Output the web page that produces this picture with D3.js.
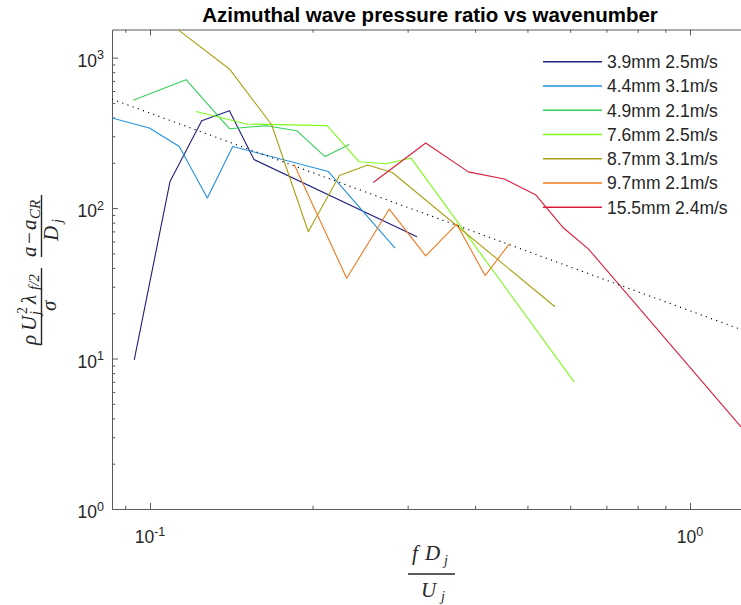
<!DOCTYPE html>
<html>
<head>
<meta charset="utf-8">
<script src="https://cdn.jsdelivr.net/npm/d3@7"></script>
<style>
  body { margin: 0; background: #fff; }
  svg { display: block; }
  text { font-family: "Liberation Sans", Arial, Helvetica, sans-serif; fill: #262626; }
  text.math { font-family: "Liberation Serif", "Times New Roman", serif; font-style: italic; }
</style>
</head>
<body>
<div id="chart"></div>
<script>
// series labels (legend order)
const seriesLabels = ["3.9mm 2.5m/s", "4.4mm 3.1m/s", "4.9mm 2.1m/s", "7.6mm 2.5m/s",
                      "8.7mm 3.1m/s", "9.7mm 2.1m/s", "15.5mm 2.4m/s"];

// fD/U values and pressure ratio values, one pair per series
const x39 = [0.0935, 0.1089, 0.1247, 0.1403, 0.1558, 0.3122];
const y39 = [9.8, 150, 381, 444, 210, 64.4];

const x44 = [0.0850, 0.0997, 0.1133, 0.1277, 0.1423, 0.2139, 0.2843];
const y44 = [397, 341, 257, 116.6, 257, 175, 54.2];

const x49 = [0.0931, 0.1166, 0.1403, 0.1644, 0.1869, 0.2109, 0.2339];
const y49 = [520, 714, 337, 353, 327, 220, 265];

const x76 = [0.1217, 0.1510, 0.2127, 0.2441, 0.2740, 0.3044, 0.6100];
const y76 = [439, 362, 353, 203, 197, 215, 7.0];

const x87 = [0.1125, 0.1403, 0.1680, 0.1964, 0.2243, 0.2531, 0.2810, 0.5623];
const y87 = [1540, 841, 358, 69.6, 164.5, 193.6, 172.5, 22.1];

const x97 = [0.1850, 0.2313, 0.2774, 0.3240, 0.3698, 0.4174, 0.4629];
const y97 = [194, 34.2, 98.5, 48.1, 78.3, 35.6, 57.9];

const x155 = [0.2591, 0.3240, 0.3886, 0.4531, 0.5185, 0.5832, 0.6482, 1.243];
const y155 = [148, 271, 174, 156, 122, 73.7, 53.6, 3.51];

// dotted power-law fit, end points
const fitX = [0.0850, 1.243];
const fitY = [530, 15.6];

// axis ticks
const xMajor = [0.1, 1];
const xMinor = [0.09, 0.2, 0.3, 0.4, 0.5, 0.6, 0.7, 0.8, 0.9];
const yMajor = [1, 10, 100, 1000];
const yMinor = [2, 3, 4, 5, 6, 7, 8, 9, 20, 30, 40, 50, 60, 70, 80, 90, 200, 300, 400, 500, 600, 700, 800, 900];

const colors = ["#1f1f80", "#2590de", "#35d05a", "#7cfc1c", "#a8a012", "#f2791f", "#dc1e3c"];

const seriesX = [x39, x44, x49, x76, x87, x97, x155];
const seriesY = [y39, y44, y49, y76, y87, y97, y155];

const W = 741, H = 605;
const plot = { left: 112, right: 750, top: 29.5, bottom: 509 };
const axisColor = "#5a5a5a";

const svg = d3.select("#chart").append("svg")
    .attr("width", W)
    .attr("height", H)
    .attr("viewBox", `0 0 ${W} ${H}`);

const x = d3.scaleLog().domain([0.08504, 1.2915]).range([plot.left, plot.right]);
const y = d3.scaleLog().domain([1, 1538]).range([plot.bottom, plot.top]);

svg.append("clipPath").attr("id", "clip")
  .append("rect")
    .attr("x", plot.left).attr("y", plot.top)
    .attr("width", plot.right - plot.left).attr("height", plot.bottom - plot.top);

// axes (ticks point inwards, like matlab)
function tidy(g) {
    g.select(".domain").attr("stroke", axisColor);
    g.selectAll(".tick line").attr("stroke", axisColor);
    g.selectAll(".tick text").remove();
}

svg.append("g").attr("transform", `translate(0,${plot.bottom})`)
    .call(d3.axisBottom(x).tickValues(xMajor).tickSize(-6).tickSizeOuter(0)).call(tidy);
svg.append("g").attr("transform", `translate(0,${plot.bottom})`)
    .call(d3.axisBottom(x).tickValues(xMinor).tickSize(-3.3).tickSizeOuter(0)).call(tidy)
    .call(g => g.select(".domain").remove());
svg.append("g").attr("transform", `translate(0,${plot.top})`)
    .call(d3.axisTop(x).tickValues(xMajor).tickSize(-6).tickSizeOuter(0)).call(tidy);
svg.append("g").attr("transform", `translate(0,${plot.top})`)
    .call(d3.axisTop(x).tickValues(xMinor).tickSize(-3.3).tickSizeOuter(0)).call(tidy)
    .call(g => g.select(".domain").remove());
svg.append("g").attr("transform", `translate(${plot.left},0)`)
    .call(d3.axisLeft(y).tickValues(yMajor).tickSize(-6).tickSizeOuter(0)).call(tidy);
svg.append("g").attr("transform", `translate(${plot.left},0)`)
    .call(d3.axisLeft(y).tickValues(yMinor).tickSize(-3.3).tickSizeOuter(0)).call(tidy)
    .call(g => g.select(".domain").remove());

// tick labels as 10^n
function powerLabel(sel) {
    sel.append("tspan").text("10");
    sel.append("tspan")
        .attr("dy", -7.5)
        .style("font-size", "12.5px")
        .text(d => String(Math.round(Math.log10(d))));
}

svg.append("g").selectAll("text").data(xMajor).join("text")
    .attr("x", d => x(d))
    .attr("y", plot.bottom + 34)
    .attr("text-anchor", "middle")
    .style("font-size", "17.5px")
    .call(powerLabel);

svg.append("g").selectAll("text").data(yMajor).join("text")
    .attr("x", plot.left - 8)
    .attr("y", d => y(d) + 9)
    .attr("text-anchor", "end")
    .style("font-size", "17.5px")
    .call(powerLabel);

// data lines
const line = d3.line().x(d => x(d[0])).y(d => y(d[1]));
const lines = svg.append("g").attr("clip-path", "url(#clip)");

seriesX.forEach((xs, i) => {
    lines.append("path")
        .datum(d3.zip(xs, seriesY[i]))
        .attr("d", line)
        .attr("fill", "none")
        .attr("stroke", colors[i])
        .attr("stroke-width", 1.1)
        .attr("stroke-linejoin", "round");
});

lines.append("path")
    .datum(d3.zip(fitX, fitY))
    .attr("d", line)
    .attr("fill", "none")
    .attr("stroke", "#000")
    .attr("stroke-width", 1.1)
    .attr("stroke-dasharray", "1.2,4.3");

// legend
const legend = svg.append("g");
seriesLabels.forEach((name, i) => {
    const ry = 61.7 + i * 24.27;
    legend.append("line")
        .attr("x1", 543).attr("x2", 602)
        .attr("y1", ry).attr("y2", ry)
        .attr("stroke", colors[i])
        .attr("stroke-width", 1.4);
    legend.append("text")
        .attr("x", 607).attr("y", ry + 6.3)
        .style("font-size", "17.5px")
        .text(name);
});

// title
svg.append("text")
    .attr("x", 430).attr("y", 22)
    .attr("text-anchor", "middle")
    .style("font-size", "20.5px")
    .style("font-weight", "bold")
    .style("fill", "#000")
    .text("Azimuthal wave pressure ratio vs wavenumber");

// math labels: [text, x, y, size, upright]
function mathPieces(g, pieces) {
    pieces.forEach(([t, px, py, size, upright]) => {
        g.append("text")
            .attr("class", "math")
            .attr("x", px).attr("y", py)
            .style("font-size", size + "px")
            .style("font-style", upright ? "normal" : "italic")
            .text(t);
    });
}
function bar(g, x1, x2, yy) {
    g.append("line")
        .attr("x1", x1).attr("x2", x2).attr("y1", yy).attr("y2", yy)
        .attr("stroke", "#262626").attr("stroke-width", 1.4);
}

// x label: fD_j / U_j
const xl = svg.append("g");
bar(xl, 408, 455, 574);
mathPieces(xl, [
    ["f", 412, 560, 21],
    ["D", 425, 560, 21],
    ["j", 444, 565, 14],
    ["U", 421, 596.5, 21],
    ["j", 441, 601, 14]
]);

// y label, rotated
const yl = svg.append("g").attr("transform", "translate(41.5,270) rotate(-90)");
bar(yl, -75, 2, 0);
bar(yl, 13, 75, 0);
mathPieces(yl, [
    ["\u03c1", -75, -6, 21],
    ["U", -61, -6, 21],
    ["2", -44, -15, 14, true],
    ["j", -45, -2, 14],
    ["\u03bb", -34, -6, 21],
    ["f/2", -20, -3, 15],
    ["\u03c3", -41, 14, 21],
    ["a", 13, -6, 21],
    ["\u2212", 26, -6, 21, true],
    ["a", 40, -6, 21],
    ["CR", 51, -2, 15],
    ["D", 29, 16.5, 21],
    ["j", 47, 20.5, 14]
]);
</script>
</body>
</html>
